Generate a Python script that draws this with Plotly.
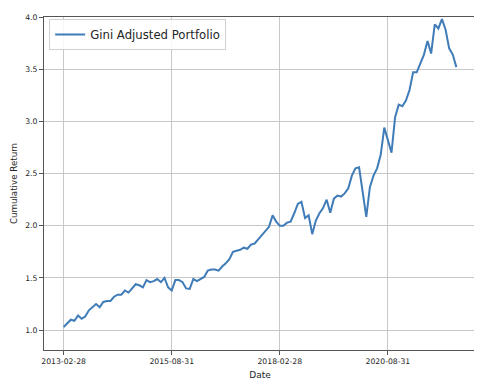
import pandas as pd
import plotly.graph_objects as go

start_date = "2013-02-28"
n_months = 110
dates = [d.strftime("%Y-%m-%d") for d in pd.date_range(start_date, periods=n_months, freq="ME")]

cumulative_return = [
    1.03, 1.07, 1.10, 1.09, 1.14, 1.11, 1.13, 1.19, 1.22, 1.25,
    1.22, 1.27, 1.28, 1.28, 1.32, 1.34, 1.34, 1.38, 1.36, 1.40,
    1.44, 1.43, 1.41, 1.48, 1.46, 1.47, 1.49, 1.46, 1.50, 1.41,
    1.38, 1.48, 1.48, 1.46, 1.40, 1.395, 1.49, 1.47, 1.49, 1.51,
    1.57, 1.58, 1.58, 1.57, 1.61, 1.64, 1.68, 1.75, 1.76, 1.77,
    1.79, 1.78, 1.82, 1.83, 1.87, 1.91, 1.96, 1.99, 2.10, 2.04,
    2.00, 2.00, 2.03, 2.04, 2.12, 2.21, 2.23, 2.075, 2.10, 1.92,
    2.05, 2.12, 2.17, 2.25, 2.125, 2.26, 2.29, 2.28, 2.31, 2.36,
    2.48, 2.55, 2.56, 2.33, 2.085, 2.37, 2.48, 2.55, 2.68, 2.94,
    2.81, 2.70, 3.04, 3.16, 3.145, 3.20, 3.30, 3.47, 3.47, 3.55,
    3.64, 3.77, 3.65, 3.93, 3.89, 3.98, 3.88, 3.70, 3.64, 3.52,
]

x_tick_labels = ["2013-02-28", "2015-08-31", "2018-02-28", "2020-08-31"]
y_tick_values = [1.0, 1.5, 2.0, 2.5, 3.0, 3.5, 4.0]
y_tick_labels = ["1.0", "1.5", "2.0", "2.5", "3.0", "3.5", "4.0"]

font_family = "DejaVu Sans"
text_color = "#262626"
grid_color = "#c8c8c8"
spine_color = "#555555"

fig = go.Figure()
fig.add_trace(go.Scatter(
    x=dates, y=cumulative_return, mode="lines",
    name="Gini Adjusted Portfolio",
    line=dict(color="#3f7cb8", width=2),
))

# the page body adds an 8px offset, so the figure is sized to fit inside the window
fig.update_layout(
    width=474, height=382,
    margin=dict(l=35, r=6, t=5, b=40),
    paper_bgcolor="white", plot_bgcolor="white",
    font=dict(family=font_family, color=text_color, size=8),
    showlegend=True,
    legend=dict(
        x=0.012, y=0.994, xanchor="left", yanchor="top",
        bgcolor="rgba(255,255,255,0.85)", bordercolor="#d0d0d0", borderwidth=1,
        font=dict(size=11.7, family=font_family, color=text_color),
        itemwidth=30,
    ),
    xaxis=dict(
        type="category",
        categoryorder="array", categoryarray=dates,
        range=[-5.45, 114.45],
        tickmode="array", tickvals=x_tick_labels, ticktext=x_tick_labels,
        ticks="outside", ticklen=4, tickcolor=spine_color, tickwidth=1,
        showgrid=True, gridcolor=grid_color, gridwidth=1,
        showline=True, linecolor=spine_color, linewidth=1, mirror=True,
        tickfont=dict(size=7.7, family=font_family, color=text_color),
        title=dict(text="Date", font=dict(size=9, family=font_family, color=text_color), standoff=6),
        zeroline=False,
    ),
    yaxis=dict(
        range=[0.81, 4.0],
        tickmode="array", tickvals=y_tick_values, ticktext=y_tick_labels,
        ticks="outside", ticklen=4, tickcolor=spine_color, tickwidth=1,
        showgrid=True, gridcolor=grid_color, gridwidth=1,
        showline=True, linecolor=spine_color, linewidth=1, mirror=True,
        tickfont=dict(size=7.7, family=font_family, color=text_color),
        title=dict(text="Cumulative Return", font=dict(size=8.7, family=font_family, color=text_color), standoff=6),
        zeroline=False,
    ),
)

fig.write_html("out.html")
